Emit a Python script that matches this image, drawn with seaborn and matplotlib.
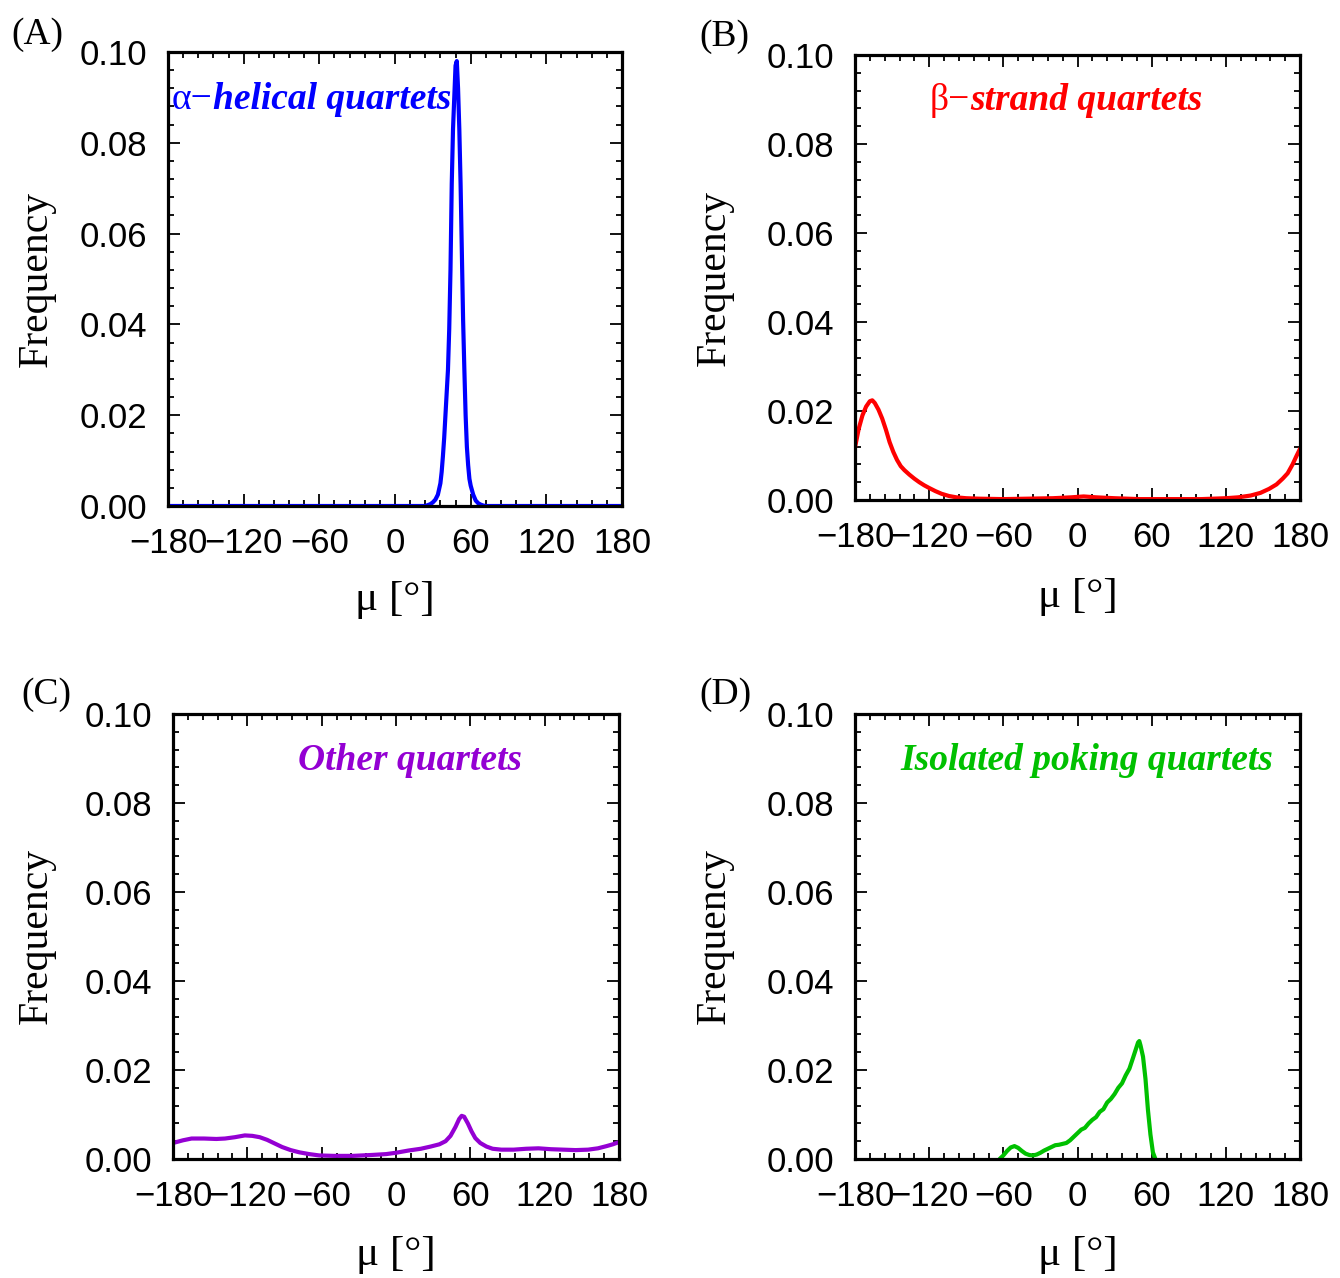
import numpy as np
import pandas as pd
import matplotlib
matplotlib.use("Agg")
import matplotlib.pyplot as plt
from matplotlib.ticker import MultipleLocator
import seaborn as sns

# ---------------- data ----------------
mu_a = [-180, 20, 24, 26, 28, 30, 32, 34, 36, 37, 38, 39, 40, 41, 42, 43, 44, 45, 46, 47, 48, 49,
        50, 51, 52, 53, 54, 55, 56, 57, 58, 59, 60, 62, 64, 66, 68, 70, 72, 180]
freq_a = [0.0, 0.0, 0.0, 0.0002, 0.0004, 0.0008, 0.0014, 0.0025, 0.0050, 0.0075, 0.011, 0.015,
          0.020, 0.025, 0.030, 0.039, 0.052, 0.071, 0.083, 0.090, 0.097, 0.098,
          0.092, 0.083, 0.071, 0.056, 0.041, 0.030, 0.020, 0.013, 0.009, 0.006,
          0.0045, 0.0025, 0.0012, 0.0006, 0.0003, 0.0001, 0.0, 0.0]

mu_b = [-180, -177, -174, -171, -168, -166, -164, -161, -158, -155, -152, -149, -146, -143,
        -140, -136, -132, -128, -124, -120, -115, -110, -104, -98, -90, -80, -60, -40, -20,
        -5, 5, 15, 30, 50, 80, 100, 120, 130, 140, 148, 155, 161, 166, 170, 174, 177, 180]
freq_b = [0.0118, 0.0160, 0.0190, 0.0210, 0.0222, 0.0224, 0.0218, 0.0203, 0.0183, 0.0158,
          0.0130, 0.0108, 0.0090, 0.0076, 0.0067, 0.0057, 0.0048, 0.0040, 0.0033, 0.0027,
          0.0020, 0.0014, 0.0009, 0.0006, 0.0004, 0.0003, 0.0002, 0.0003, 0.0004, 0.0006,
          0.0008, 0.0006, 0.0004, 0.0002, 0.0002, 0.0002, 0.0004, 0.0006, 0.0010, 0.0016,
          0.0025, 0.0035, 0.0048, 0.0060, 0.0080, 0.0098, 0.0115]

mu_c = [-180, -172, -165, -155, -145, -138, -130, -122, -116, -110, -104, -98, -92, -85, -78,
        -70, -62, -50, -35, -20, -8, 0, 10, 20, 28, 35, 40, 44, 48, 51, 53, 55, 58, 61, 64,
        68, 73, 78, 85, 95, 105, 115, 125, 135, 145, 155, 163, 170, 175, 180]
freq_c = [0.0036, 0.0042, 0.0046, 0.0046, 0.0045, 0.0046, 0.0049, 0.0053, 0.0052, 0.0049,
          0.0043, 0.0035, 0.0027, 0.0020, 0.0015, 0.0011, 0.0008, 0.0007, 0.0007, 0.0009,
          0.0011, 0.0014, 0.0019, 0.0023, 0.0028, 0.0033, 0.0040, 0.0052, 0.0072, 0.0090,
          0.0097, 0.0095, 0.0080, 0.0062, 0.0047, 0.0036, 0.0028, 0.0023, 0.0021, 0.0021,
          0.0023, 0.0024, 0.0022, 0.0021, 0.0020, 0.0021, 0.0024, 0.0029, 0.0033, 0.0038]

mu_d = [-63, -60, -57, -54, -51, -48, -45, -42, -39, -36, -33, -30, -27, -24, -21, -18, -15,
        -12, -9, -6, -3, 0, 3, 6, 9, 12, 15, 18, 21, 24, 27, 30, 33, 36, 39, 42, 45, 47, 49,
        50, 51, 53, 55, 57, 59, 61, 63]
freq_d = [0.0, 0.0008, 0.0018, 0.0026, 0.0029, 0.0025, 0.0018, 0.0012, 0.0009, 0.0008, 0.0010,
          0.0014, 0.0019, 0.0023, 0.0027, 0.0031, 0.0032, 0.0034, 0.0036, 0.0042, 0.0050,
          0.0058, 0.0066, 0.0070, 0.0080, 0.0088, 0.0094, 0.0106, 0.0112, 0.0127, 0.0135,
          0.0146, 0.0160, 0.0170, 0.0188, 0.0203, 0.0228, 0.0245, 0.0262, 0.0265, 0.0255,
          0.0230, 0.0180, 0.0110, 0.0055, 0.0015, 0.0]

panel_letters = ["(A)", "(B)", "(C)", "(D)"]
greek = ["\u03b1\u2212", "\u03b2\u2212", "", ""]
titles = ["helical quartets", "strand quartets", "Other quartets", "Isolated poking quartets"]
colors = ["#0000FF", "#FF0000", "#9400D3", "#00C000"]
x_ticks = [-180, -120, -60, 0, 60, 120, 180]
y_ticks = [0.00, 0.02, 0.04, 0.06, 0.08, 0.10]

# ---------------- style ----------------
sns.set_theme(style="white")
plt.rcParams["font.family"] = ["Liberation Sans", "DejaVu Sans"]
plt.rcParams["axes.unicode_minus"] = True
plt.rcParams["text.color"] = "black"
plt.rcParams["axes.labelcolor"] = "black"
plt.rcParams["xtick.color"] = "black"
plt.rcParams["ytick.color"] = "black"

SERIF = ["Liberation Serif", "DejaVu Serif"]

fig = plt.figure(figsize=(13.4, 12.78), dpi=100)
W, H = 1340, 1278
# pixel boxes: left, right, top, bottom
boxes = [(168, 622, 52, 506), (855, 1300, 55, 500), (173, 619, 714, 1159), (855, 1300, 714, 1159)]
ylab_x = [37, 715, 37, 715]
xlab_top = [580, 577, 1235, 1235]
letter_pos = [(11, 17), (699, 19), (21, 677), (699, 677)]
title_pos = [(172, 100), (930, 101), (298, 760), (900, 760)]

datasets = [(mu_a, freq_a), (mu_b, freq_b), (mu_c, freq_c), (mu_d, freq_d)]

for i in range(4):
    l, r, t, b = boxes[i]
    ax = fig.add_axes([l / W, (H - b) / H, (r - l) / W, (b - t) / H])
    df = pd.DataFrame({"mu": datasets[i][0], "freq": datasets[i][1]})
    sns.lineplot(data=df, x="mu", y="freq", ax=ax, color=colors[i], lw=3.0, sort=False)
    ax.set_xlim(-180, 180)
    ax.set_ylim(0, 0.10)
    ax.set_xticks(x_ticks)
    ax.set_yticks(y_ticks)
    ax.set_xticklabels([f"{v:d}".replace("-", "\u2212") for v in x_ticks])
    ax.set_yticklabels([f"{v:.2f}" for v in y_ticks])
    ax.xaxis.set_minor_locator(MultipleLocator(12))
    ax.yaxis.set_minor_locator(MultipleLocator(0.004))
    ax.tick_params(which="both", direction="in", top=True, right=True, bottom=True, left=True,
                   colors="black", labelcolor="black", width=1.3)
    ax.tick_params(which="major", length=8.5, labelsize=25)
    ax.tick_params(which="minor", length=4.5)
    ax.tick_params(axis="x", which="major", pad=15)
    ax.tick_params(axis="y", which="major", pad=15)
    for sp in ax.spines.values():
        sp.set_linewidth(2.3)
        sp.set_color("black")
        sp.set_visible(True)
    ax.set_xlabel("\u03bc [\u00b0]", fontsize=31, family=SERIF, va="top", color="black")
    ax.set_ylabel("Frequency", fontsize=30, family=SERIF, va="center", color="black")
    ax.xaxis.set_label_coords(0.5, (b - xlab_top[i]) / (b - t))
    ax.yaxis.set_label_coords((ylab_x[i] - l) / (r - l), 0.5)

    lx, ly = letter_pos[i]
    fig.text(lx / W, 1 - ly / H, panel_letters[i], fontsize=27, family=SERIF,
             ha="left", va="top", color="black")

    tx, ty = title_pos[i]
    axx = (tx - l) / (r - l)
    axy = (b - ty) / (b - t)
    if greek[i]:
        t1 = ax.text(axx, axy, greek[i], transform=ax.transAxes, fontsize=27,
                     family=SERIF, color=colors[i], ha="left", va="center")
        ax.annotate(titles[i], xy=(1, 0), xycoords=t1, ha="left", va="bottom",
                    fontsize=27, family=SERIF, style="italic", weight="bold", color=colors[i])
    else:
        ax.text(axx, axy, titles[i], transform=ax.transAxes, fontsize=27,
                family=SERIF, style="italic", weight="bold",
                color=colors[i], ha="left", va="center")

fig.savefig("out.png", dpi=100)
